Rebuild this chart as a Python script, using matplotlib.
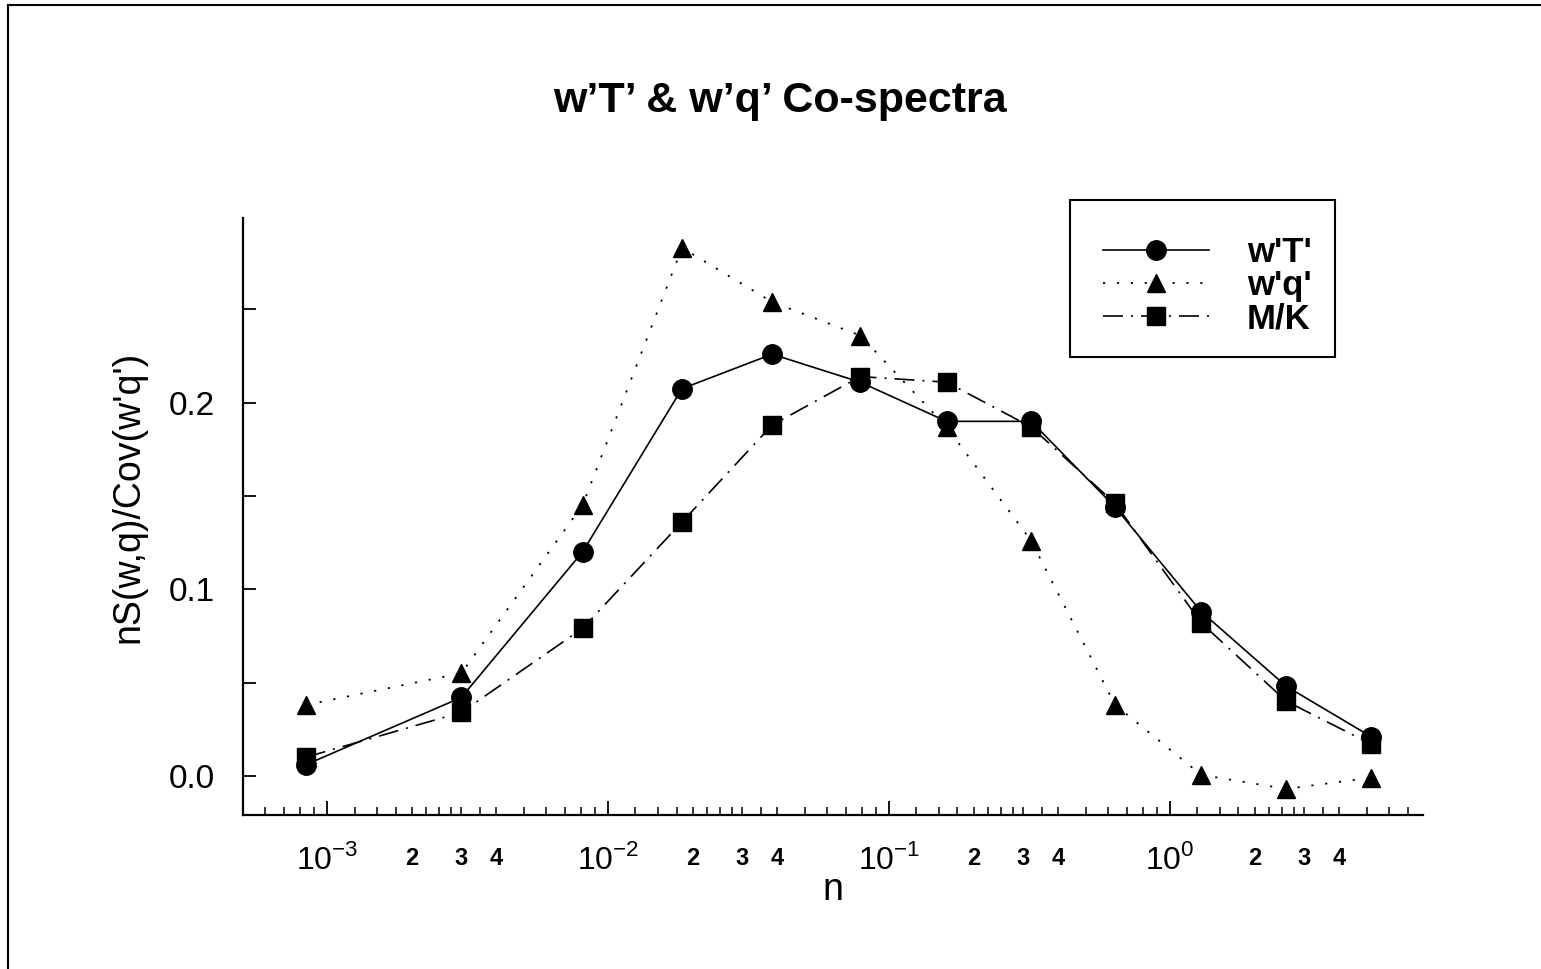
from matplotlib import pyplot as plt
from matplotlib import font_manager
from matplotlib.patches import Rectangle
from matplotlib.ticker import LogLocator, FixedLocator, FuncFormatter, NullFormatter
import numpy as np

# data
n = [8.4e-4, 3.0e-3, 8.1e-3, 0.0183, 0.0383, 0.0789, 0.160, 0.320, 0.637, 1.29, 2.59, 5.19]
wT = [0.006, 0.042, 0.120, 0.2075, 0.226, 0.211, 0.190, 0.190, 0.144, 0.088, 0.048, 0.021]
wq = [0.038, 0.055, 0.145, 0.283, 0.254, 0.236, 0.187, 0.126, 0.038, 0.0005, -0.007, -0.001]
mk = [0.010, 0.034, 0.079, 0.136, 0.188, 0.214, 0.211, 0.187, 0.146, 0.082, 0.040, 0.017]
labels = ["w'T'", "w'q'", "M/K"]

names = {f.name for f in font_manager.fontManager.ttflist}
narrow = 'Liberation Sans Narrow' if 'Liberation Sans Narrow' in names else 'Liberation Sans'
plt.rcParams['font.family'] = ['Liberation Sans', 'DejaVu Sans']
plt.rcParams['mathtext.fontset'] = 'custom'
plt.rcParams['mathtext.rm'] = 'Liberation Sans'

W, H = 1541, 969
fig = plt.figure(figsize=(W / 100, H / 100), dpi=100)
ax = fig.add_axes([243 / W, 1 - 815 / H, (1423 - 243) / W, (815 - 218) / H])

lw = 1.2
ax.plot(n, wT, '-', color='black', lw=lw, marker='o', ms=14, label=labels[0])
ax.plot(n, wq, color='black', lw=1.3, ls=(0, (1.2, 6.5)), marker='^', ms=13, label=labels[1])
ax.plot(n, mk, color='black', lw=lw, ls=(0, (12, 4.8, 1.2, 4.8)), marker='s', ms=13, label=labels[2])

ax.set_xscale('log')
ax.set_xlim(10 ** -3.30, 10 ** 0.90)
ax.set_ylim(-0.021, 0.299)

for s in ['top', 'right']:
    ax.spines[s].set_visible(False)
for s in ['left', 'bottom']:
    ax.spines[s].set_linewidth(1.6)

# x ticks
ax.xaxis.set_major_locator(LogLocator(base=10, subs=[1.0]))
ax.xaxis.set_major_formatter(FuncFormatter(lambda v, p: r'$10^{%d}$' % round(np.log10(v))))
subs = [1.25, 1.5, 1.75, 2, 2.25, 2.5, 2.75, 3, 3.5, 4, 5, 6, 7, 8, 9]
ax.xaxis.set_minor_locator(LogLocator(base=10, subs=subs, numticks=40))


def minor_fmt(v, p):
    m = v / 10 ** np.floor(np.log10(v) + 1e-9)
    for d in (2, 3, 4):
        if abs(m - d) < 1e-6:
            return str(d)
    return ''


ax.xaxis.set_minor_formatter(FuncFormatter(minor_fmt))
ax.tick_params(axis='x', which='major', direction='in', length=10, width=1.3,
               pad=21, labelsize=23)
ax.tick_params(axis='x', which='minor', direction='in', length=6, width=1.1,
               pad=23, labelsize=17)
for t in ax.xaxis.get_minor_ticks():
    t.label1.set_fontweight('bold')
    t.label1.set_family(narrow)

# y ticks
ax.yaxis.set_major_locator(FixedLocator([0.0, 0.1, 0.2]))
ax.yaxis.set_major_formatter(FuncFormatter(lambda v, p: '%.1f' % v))
ax.yaxis.set_minor_locator(FixedLocator([0.05, 0.15, 0.25]))
ax.yaxis.set_minor_formatter(NullFormatter())
ax.tick_params(axis='y', which='both', direction='in', length=9, width=1.3,
               pad=20, labelsize=24)

# legend: entries without frame, box drawn separately
ax.legend(loc='center left', bbox_to_anchor=(1103 / W, 1 - 286 / H),
          bbox_transform=fig.transFigure, numpoints=1, frameon=False,
          handlelength=3.05, handletextpad=1.1, labelspacing=0.0,
          borderpad=0, borderaxespad=0,
          prop={'family': narrow, 'weight': 'bold', 'size': 25})
fig.add_artist(Rectangle((1070 / W, 1 - 357 / H), 265 / W, 157 / H,
                         transform=fig.transFigure, fill=False,
                         edgecolor='black', lw=1.5))

fig.text(780 / W, 1 - 101 / H, "w\u2019T\u2019 & w\u2019q\u2019 Co-spectra",
         ha='center', va='center', fontsize=31, fontweight='bold')
fig.text(833 / W, 1 - 890 / H, 'n', ha='center', va='center', fontsize=27)
fig.text(128 / W, 1 - 497 / H, "nS(w,q)/Cov(w'q')", ha='center', va='center',
         rotation=90, fontsize=27)

# scanned page frame
fig.add_artist(plt.Line2D([8 / W, 1], [1 - 5 / H, 1 - 5 / H], color='black', lw=1.5))
fig.add_artist(plt.Line2D([8 / W, 8 / W], [0, 1 - 5 / H], color='black', lw=1.5))

fig.savefig('out.png', dpi=100)
